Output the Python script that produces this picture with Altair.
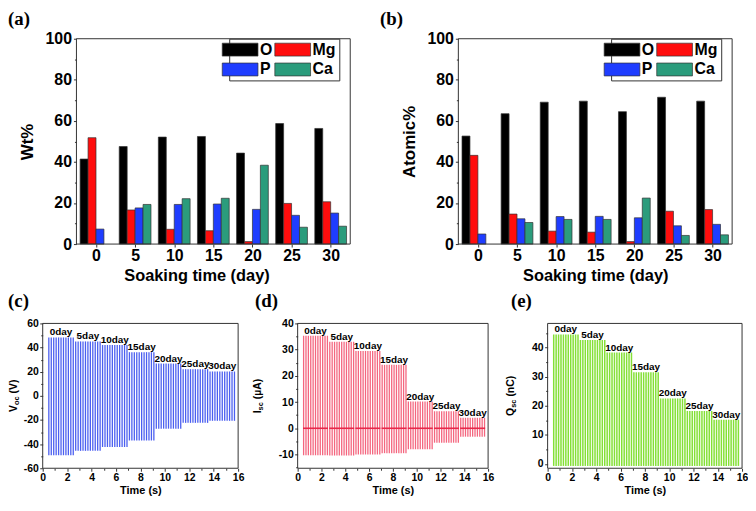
import altair as alt
import pandas as pd

FONT = "Liberation Sans"
SERIF = "Liberation Serif"
FRAME = "#333333"

# ---------------- (a) Wt%  /  (b) Atomic% ----------------
days = [0, 5, 10, 15, 20, 25, 30]
elements = ["O", "Mg", "P", "Ca"]
element_colors = ["#000000", "#ff0d0d", "#1f3dff", "#2b9c7c"]

wt_O = [41.4, 47.5, 52.1, 52.4, 44.3, 58.7, 56.3]
wt_Mg = [51.8, 16.6, 7.2, 6.5, 1.2, 19.8, 20.6]
wt_P = [7.3, 17.6, 19.3, 19.5, 16.9, 14.0, 15.1]
wt_Ca = [None, 19.3, 22.1, 22.3, 38.4, 8.2, 8.7]

at_O = [52.6, 63.5, 69.1, 69.6, 64.5, 71.5, 69.6]
at_Mg = [43.2, 14.6, 6.3, 5.8, 1.2, 16.0, 16.8]
at_P = [4.9, 12.3, 13.4, 13.5, 12.8, 8.9, 9.6]
at_Ca = [None, 10.5, 12.0, 12.0, 22.4, 4.2, 4.5]

# ---------------- (c) Voc, (d) Isc, (e) Qsc ----------------
group_labels = ["0day", "5day", "10day", "15day", "20day", "25day", "30day"]
group_start = [0.5, 2.7, 4.9, 7.1, 9.3, 11.5, 13.7]
pulse_offsets = [0.0, 0.2, 0.4, 0.6, 0.8, 1.0, 1.2, 1.4, 1.6, 1.8, 2.0]
voc_pos = [48.4, 45.1, 42.1, 36.2, 26.7, 22.1, 20.2]
voc_neg = [-49.2, -45.6, -42.4, -37.0, -27.2, -22.4, -20.7]
isc_pos = [35.3, 33.0, 29.5, 24.2, 10.2, 6.5, 4.0]
isc_neg = [-10.3, -10.4, -10.0, -9.5, -8.0, -5.5, -3.2]
qsc_pos = [44.5, 42.6, 38.3, 31.5, 22.5, 18.2, 15.2]
qsc_neg = [-0.7, -0.7, -0.7, -0.7, -0.7, -0.7, -0.7]

ARIAL_B = {'V': 667, 'I': 278, 'Q': 778, 'o': 611, 'c': 556, 's': 556, ' ': 278,
           '(': 333, ')': 333, 'µ': 611, 'A': 722, 'n': 611, 'C': 722}

ONE = pd.DataFrame({"k": [0]})
GROUP_W = 4.06          # width of one group of four bars, in days
X_MIN, X_MAX = -2.5, 32.5
PLOT_W1, PLOT_H1 = 276, 207


def tw(s, fs):
    return sum(ARIAL_B[ch] for ch in s) / 1000.0 * fs


def panel_label(label, dx, y):
    return alt.Chart(ONE).mark_text(text=label, align="left", baseline="alphabetic",
                                    font=SERIF, fontSize=19, fontWeight="bold",
                                    color="black").encode(x=alt.value(dx), y=alt.value(y))


def frame(xscale, yscale, x0, x1, y0, y1):
    df = pd.DataFrame({"fx0": [x0], "fx1": [x1], "fy0": [y0], "fy1": [y1]})
    return alt.Chart(df).mark_rect(fillOpacity=0, stroke=FRAME, strokeWidth=1).encode(
        x=alt.X("fx0:Q", scale=xscale, axis=None), x2="fx1:Q",
        y=alt.Y("fy0:Q", scale=yscale, axis=None), y2="fy1:Q")


def bar_panel(series, ytitle, label, label_dx, lead, legend_x):
    # lead: blank pixels kept at the left of the view, so that the plot starts there
    rows = []
    for i, d in enumerate(days):
        for j, (el, arr) in enumerate(zip(elements, series)):
            if arr[i] is not None:
                lo = d - GROUP_W / 2 + j * GROUP_W / 4
                rows.append({"x0": lo, "x1": lo + GROUP_W / 4, "el": el, "v": arr[i],
                             "base": 0.0})
    df = pd.DataFrame(rows)
    per_px = (X_MAX - X_MIN) / PLOT_W1
    xscale = alt.Scale(domain=[X_MIN - lead * per_px, X_MAX], nice=False, zero=False,
                       padding=0)
    yscale = alt.Scale(domain=[0, 100], nice=False, zero=False, padding=0)
    legend = alt.Legend(title=None, orient="none", legendX=legend_x, legendY=0,
                        columns=2, direction="horizontal",
                        symbolType="M-2.77,-1L2.77,-1L2.77,1L-2.77,1Z", symbolSize=169,
                        symbolStrokeColor=FRAME, symbolStrokeWidth=0.7, symbolOpacity=1,
                        labelFont=FONT, labelFontSize=16, labelFontWeight="bold",
                        labelColor="black", labelOffset=12, columnPadding=0, rowPadding=4,
                        padding=3, strokeColor=FRAME, fillColor="white")
    bars = alt.Chart(df).mark_rect(stroke=FRAME, strokeWidth=0.7).encode(
        x=alt.X("x0:Q", scale=xscale,
                axis=alt.Axis(title="Soaking time (day)", orient="bottom", values=days,
                              format="d", labelAngle=0, labelFontSize=16, tickSize=3,
                              labelPadding=1, labelFlush=False, domain=False,
                              titleFontSize=16.5, titlePadding=4)),
        x2="x1:Q",
        y=alt.Y("v:Q", scale=yscale,
                axis=alt.Axis(orient="left", offset=-lead, values=[0, 20, 40, 60, 80, 100],
                              title=ytitle, labelFontSize=16, tickSize=3, labelPadding=2,
                              domain=False, titleFontSize=17, titlePadding=9)),
        y2="base:Q",
        color=alt.Color("el:N", sort=elements,
                        scale=alt.Scale(domain=elements, range=element_colors), legend=legend),
    )
    minor = alt.Chart(pd.DataFrame({"m": [0.0]})).mark_point(opacity=0).encode(
        y=alt.Y("m:Q", scale=yscale,
                axis=alt.Axis(orient="left", offset=-lead, values=[10, 30, 50, 70, 90],
                              labels=False, domain=False, tickSize=2, title=None, grid=False)))
    return alt.layer(bars, minor, frame(xscale, yscale, X_MIN, X_MAX, 0, 100),
                     panel_label(label, label_dx, -14)
                     ).resolve_axis(x="independent", y="independent").properties(
        width=PLOT_W1 + lead, height=PLOT_H1)


def rot_title(parts, x_rel, mid):
    # parts: (text, fontSize, shift to the right, gap before in px)
    L = sum(tw(t, fs) + gap for t, fs, sh, gap in parts)
    y0 = mid + L / 2
    out = []
    acc = 0.0
    for t, fs, sh, gap in parts:
        acc += gap
        out.append(alt.Chart(ONE).mark_text(text=t, angle=270, align="left",
                                            baseline="alphabetic", font=FONT, fontSize=fs,
                                            fontWeight="bold", color="black").encode(
            x=alt.value(x_rel + sh), y=alt.value(y0 - acc)))
        acc += tw(t, fs)
    return out


def ts_panel(pos, neg, color, ydom, yvals, yminor, tparts, title_x, label, label_dx,
             width, rule_w, base_color=None):
    H = 146
    rows = [{"t": s + o, "lo": n, "hi": p}
            for s, p, n in zip(group_start, pos, neg) for o in pulse_offsets]
    xscale = alt.Scale(domain=[0, 16], nice=False, zero=False, padding=0)
    yscale = alt.Scale(domain=ydom, nice=False, zero=False, padding=0)
    xaxis = alt.Axis(values=list(range(0, 17, 2)), title="Time (s)", labelFontSize=10.5,
                     tickSize=3, labelPadding=1.5, labelFlush=False, labelOverlap=False,
                     domain=False, titleFontSize=11, titlePadding=1, format="d")
    yaxis = alt.Axis(values=yvals, title=None, labelFontSize=10.5, tickSize=3,
                     labelPadding=1.5, labelFlush=False, labelOverlap=False, domain=False,
                     labelExpr="datum.value < 0 ? '-' + abs(datum.value) : '' + datum.value")
    layers = [alt.Chart(pd.DataFrame(rows)).mark_rule(color=color, strokeWidth=rule_w).encode(
        x=alt.X("t:Q", scale=xscale, axis=xaxis),
        y=alt.Y("lo:Q", scale=yscale, axis=yaxis), y2="hi:Q")]
    if base_color is not None:
        bdf = pd.DataFrame({"t0": [s - 0.05 for s in group_start],
                            "t1": [s + 2.05 for s in group_start],
                            "z": [0.0] * len(group_start)})
        layers.append(alt.Chart(bdf).mark_rule(color=base_color, strokeWidth=1.6).encode(
            x=alt.X("t0:Q", scale=xscale, axis=None), x2="t1:Q",
            y=alt.Y("z:Q", scale=yscale, axis=None)))
    ldf = pd.DataFrame({"t": [s + 1.0 for s in group_start], "hi": pos, "lab": group_labels})
    layers.append(alt.Chart(ldf).mark_text(font=FONT, fontSize=10, fontWeight="bold",
                                           color="black", baseline="alphabetic", dy=-2).encode(
        x=alt.X("t:Q", scale=xscale, axis=None), y=alt.Y("hi:Q", scale=yscale, axis=None),
        text="lab:N"))
    layers.append(alt.Chart(pd.DataFrame({"mx": [0.0], "my": [0.0]})).mark_point(opacity=0).encode(
        x=alt.X("mx:Q", scale=xscale,
                axis=alt.Axis(values=list(range(1, 16, 2)), labels=False, domain=False,
                              tickSize=2, title=None, orient="bottom", grid=False)),
        y=alt.Y("my:Q", scale=yscale,
                axis=alt.Axis(values=yminor, labels=False, domain=False, tickSize=2,
                              title=None, orient="left", grid=False))))
    layers.append(frame(xscale, yscale, 0, 16, ydom[0], ydom[1]))
    layers += rot_title(tparts, title_x, H / 2)
    layers.append(panel_label(label, label_dx, -17))
    return alt.layer(*layers).resolve_axis(x="independent", y="independent").properties(
        width=width, height=H)


pa = bar_panel([wt_O, wt_Mg, wt_P, wt_Ca], "Wt%", "(a)", -35, 34, 188)
pb = bar_panel([at_O, at_Mg, at_P, at_Ca], "Atomic%", "(b)", -79, 0, 154)

SP = tw(" ", 10.5)
pc = ts_panel(voc_pos, voc_neg, "#4b5ff0", [-60, 60], [-60, -40, -20, 0, 20, 40, 60],
              [-50, -30, -10, 10, 30, 50],
              [("V", 10.5, 0, 0), ("oc", 7.5, 2, 0), ("(V)", 10.5, 0, SP)],
              -26, "(c)", -35, 197, 1.3)
pd_ = ts_panel(isc_pos, isc_neg, "#f4667f", [-15.25, 40], [-10, 0, 10, 20, 30, 40],
               [-15, -5, 5, 15, 25, 35],
               [("I", 10.5, 0, 0), ("sc", 7.5, 2, 0), ("(µA)", 10.5, 0, SP)],
               -37, "(d)", -43, 192, 1.3, base_color="#e8284a")
pe = ts_panel(qsc_pos, qsc_neg, "#84e036", [-1.5, 48.3], [0, 10, 20, 30, 40],
              [5, 15, 25, 35, 45],
              [("Q", 10.5, 0, 0), ("sc", 7.5, 2, 0), ("(nC)", 10.5, 0, SP)],
              -34, "(e)", -37, 196, 1.5)

row1 = alt.hconcat(pa, pb, spacing=109, bounds="flush").resolve_scale(
    color="independent").resolve_legend(color="independent")
row2 = alt.hconcat(pc, pd_, pe, spacing=60, bounds="flush")

chart = alt.concat(row1, row2, columns=1, align="none", spacing=7).resolve_scale(
    color="independent").properties(padding=0)

chart = chart.configure_view(strokeOpacity=0).configure_axis(
    domainColor=FRAME, tickColor=FRAME, labelColor="black", titleColor="black", grid=False,
    labelFont=FONT, titleFont=FONT, labelFontWeight="bold", titleFontWeight="bold",
    domainWidth=1, tickWidth=1)

chart.save("out.html", embed_options={"renderer": "svg", "actions": False})
